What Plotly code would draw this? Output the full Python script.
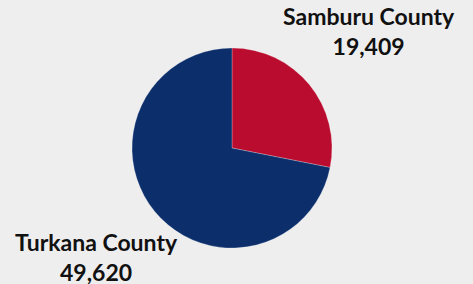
import plotly.graph_objects as go

counties = ["Samburu County", "Turkana County"]
values = [19409, 49620]
colors = ["#BA0C2F", "#0C2F6B"]

W, H = 473, 284
cx, cy, r = 232, 148, 100

fig = go.Figure(go.Pie(
    labels=counties,
    values=values,
    sort=False,
    direction="clockwise",
    rotation=0,
    textinfo="none",
    hoverinfo="label+value",
    showlegend=False,
    marker=dict(colors=colors, line=dict(color="rgba(255,255,255,0.4)", width=0.6)),
    domain=dict(x=[(cx - r) / W, (cx + r) / W], y=[(H - cy - r) / H, (H - cy + r) / H]),
))

label_pos = [(369, 31), (96, 257)]
for name, val, (x, y) in zip(counties, values, label_pos):
    fig.add_annotation(
        x=x / W, y=1 - y / H, xref="paper", yref="paper",
        text=f"<b>{name}</b><br><b>{val:,}</b>",
        showarrow=False, xanchor="center", yanchor="middle",
        font=dict(family="Lato", size=23, color="#111111"),
        align="center",
    )

fig.update_layout(
    width=W, height=H,
    margin=dict(l=0, r=0, t=0, b=0),
    paper_bgcolor="#EEEEEE",
    plot_bgcolor="#EEEEEE",
)

fig.write_html(
    "out.html",
    config={"displayModeBar": False},
    post_script="document.body.style.margin='0';document.body.style.padding='0';document.body.style.background='#EEEEEE';document.body.style.overflow='hidden';",
)
